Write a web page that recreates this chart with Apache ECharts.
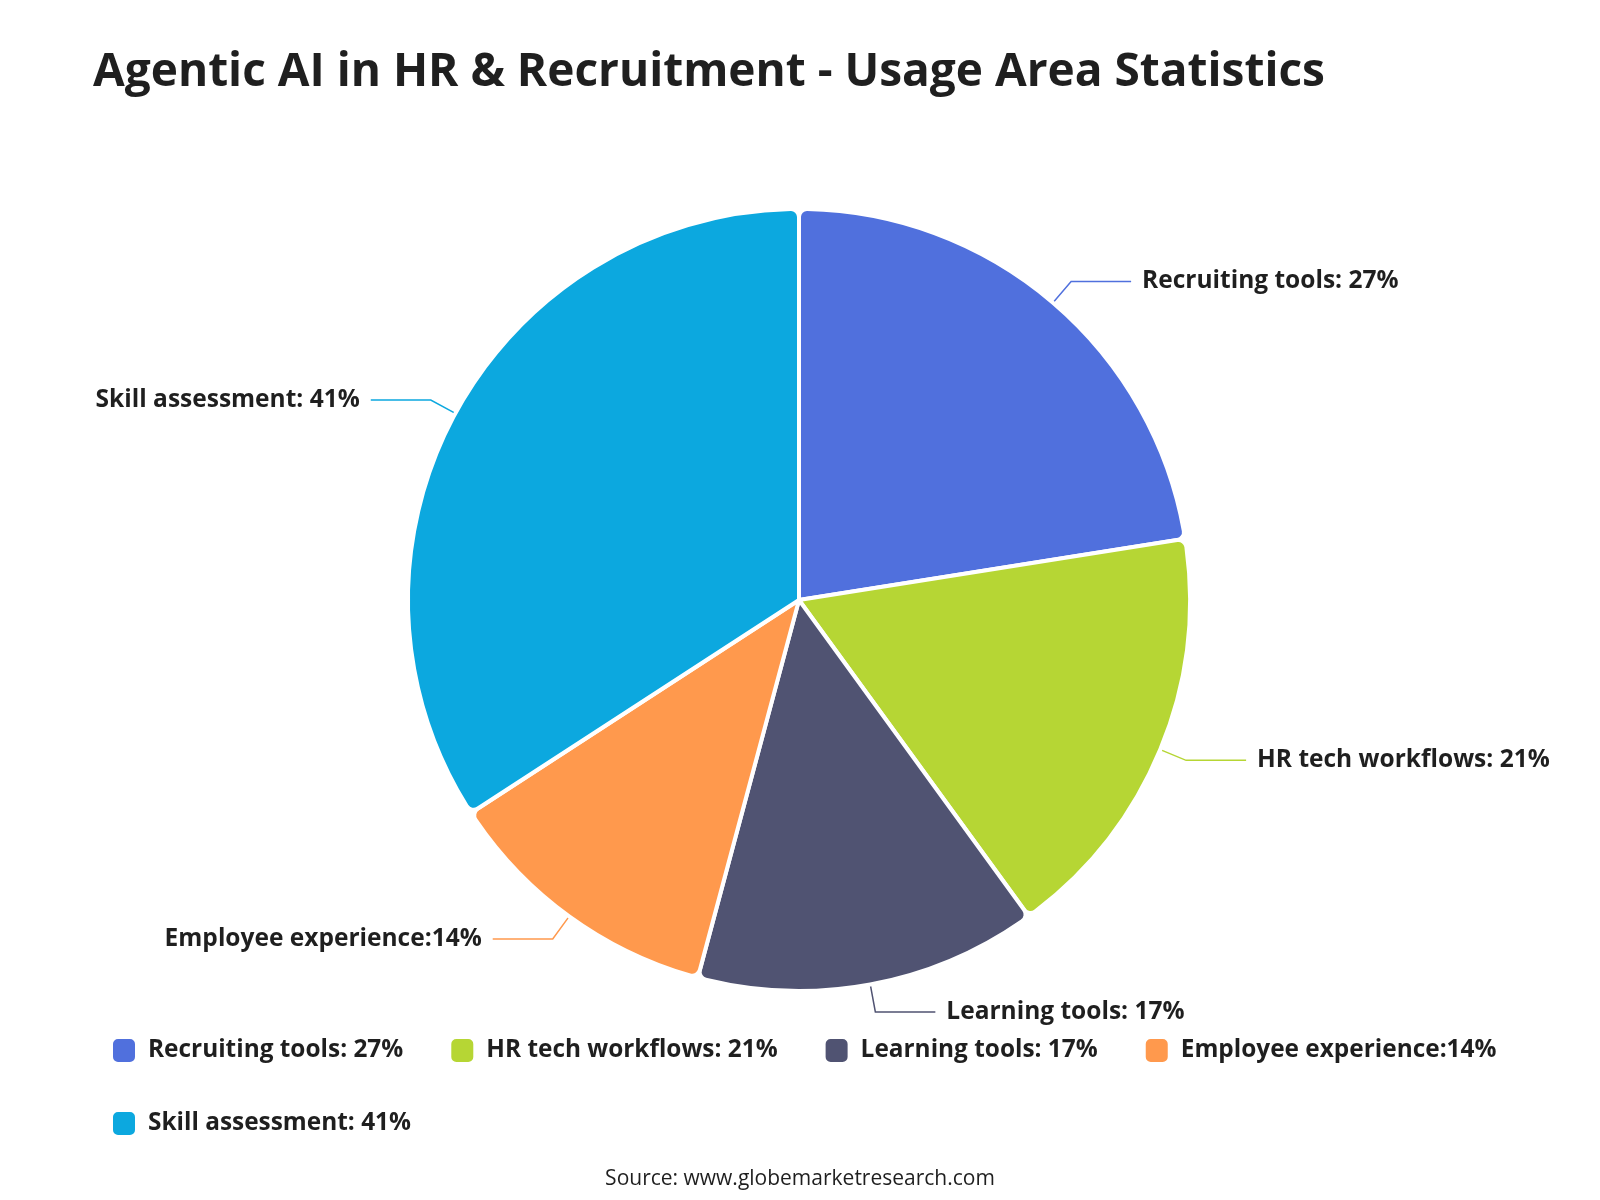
<!DOCTYPE html>
<html>
<head>
<meta charset="utf-8">
<script src="https://cdn.jsdelivr.net/npm/echarts@6/dist/echarts.min.js"></script>
<style>
  html, body { margin: 0; padding: 0; background: #fff; }
  #main { width: 1600px; height: 1200px; }
</style>
</head>
<body>
<div id="main"></div>
<script>
// usage areas and their shares (%)
var areaNames = ['Recruiting tools: 27%', 'HR tech workflows: 21%', 'Learning tools: 17%', 'Employee experience:14%', 'Skill assessment: 41%'];
var areaValues = [27, 21, 17, 14, 41];
var areaColors = ['#5070dd', '#b6d634', '#505372', '#ff994d', '#0ca8df'];

var fontFamily = '"Open Sans", "Noto Sans", sans-serif';

var data = [];
for (var i = 0; i < areaNames.length; i++) {
  data.push({ name: areaNames[i], value: areaValues[i], itemStyle: { color: areaColors[i] } });
}

var myChart = echarts.init(document.getElementById('main'));

var option = {
  title: [{
    text: 'Agentic AI in HR & Recruitment - Usage Area Statistics',
    left: 88,
    top: 45,
    textStyle: { fontFamily: fontFamily, fontSize: 46, fontWeight: 'bold', color: '#1f1f1f' }
  }, {
    text: 'Source: www.globemarketresearch.com',
    left: 'center',
    top: 1164,
    textStyle: { fontFamily: fontFamily, fontSize: 21, fontWeight: 'normal', color: '#1f1f1f' }
  }],
  legend: {
    left: 106,
    top: 1032,
    width: 1420,
    itemWidth: 24,
    itemHeight: 25,
    itemGap: 46,
    icon: 'roundRect',
    textStyle: { fontFamily: fontFamily, fontSize: 24.4, fontWeight: 'bold', color: '#1f1f1f', padding: [0, 0, 0, 7], lineHeight: 27 },
    data: areaNames
  },
  series: [{
    type: 'pie',
    center: [799, 600],
    radius: 391,
    startAngle: 90,
    clockwise: true,
    itemStyle: { borderColor: '#fff', borderWidth: 4, borderRadius: 8 },
    label: {
      show: true,
      formatter: '{b}',
      fontFamily: fontFamily,
      fontSize: 24.5,
      fontWeight: 'bold',
      color: '#1f1f1f',
      padding: [0, 6]
    },
    labelLine: { length: 28, length2: 60, lineStyle: { width: 1.5 } },
    emphasis: { disabled: true },
    data: data
  }]
};

myChart.setOption(option);
</script>
</body>
</html>
